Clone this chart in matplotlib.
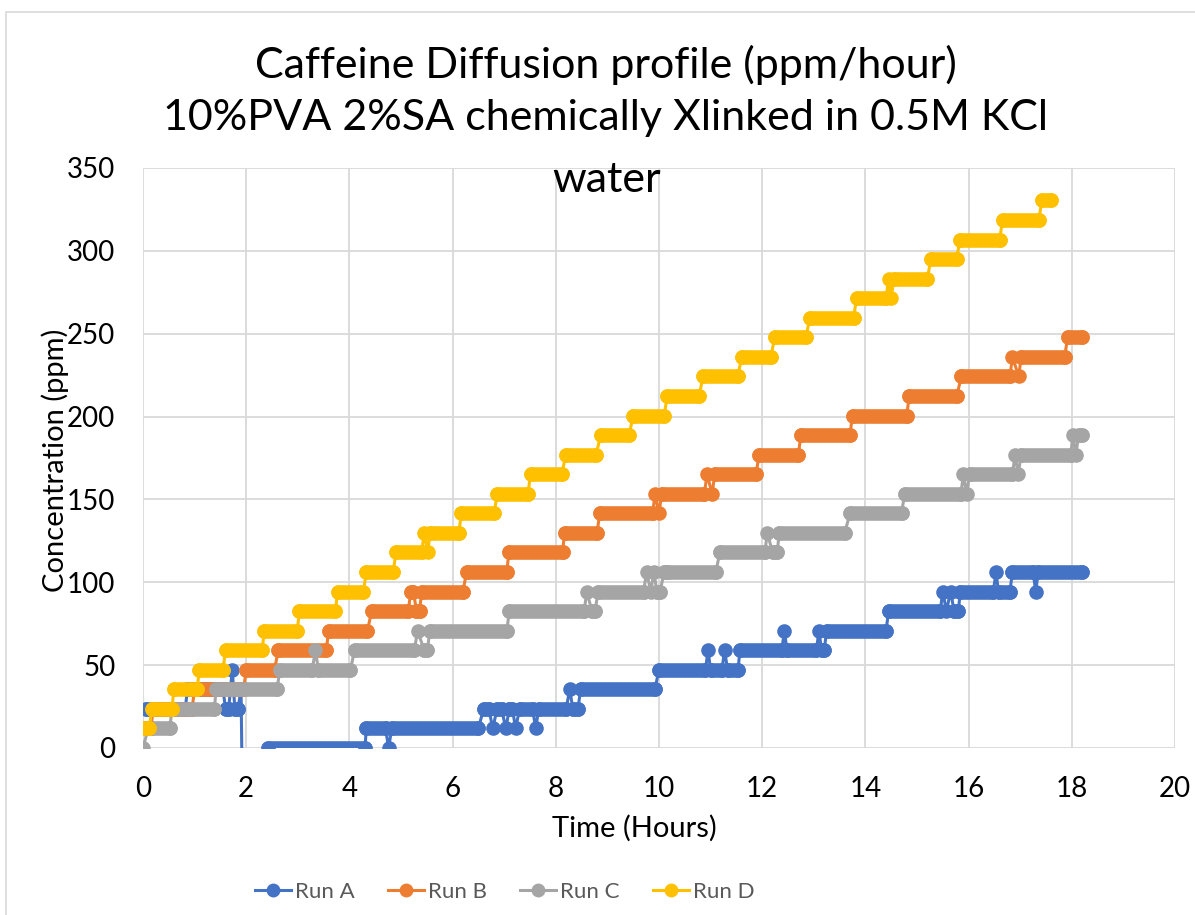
import numpy as np
import matplotlib.pyplot as plt
from matplotlib.patches import Rectangle

plt.rcParams['font.family'] = ['Lato', 'DejaVu Sans']

# Data (hours, ppm) - breakpoints of the stepped series
run_a_t = [0.05, 0.82, 0.86, 1.55, 1.60, 1.66, 1.73, 1.78, 1.84, 1.90, 1.93,
           2.43, 4.30, 4.33, 4.70, 4.76, 4.82, 6.50, 6.60, 6.70, 6.78, 6.86, 6.95,
           7.03, 7.10, 7.16, 7.22, 7.30, 7.55, 7.61, 7.67, 8.20, 8.27, 8.33, 8.43,
           8.48, 9.92, 10.00, 10.90, 10.95, 11.00, 11.22, 11.27, 11.33, 11.53, 11.57,
           12.38, 12.43, 12.48, 13.05, 13.10, 13.15, 13.20, 13.25, 14.40, 14.45,
           15.45, 15.50, 15.57, 15.65, 15.72, 15.80, 15.84, 16.48, 16.53, 16.58,
           16.80, 16.85, 17.25, 17.30, 17.35, 18.20]
run_a_ppm = [23.6, 23.6, 35.4, 35.4, 23.6, 23.6, 47.2, 23.6, 23.6, 35.4, -40,
             0, 0, 11.8, 11.8, 0, 11.8, 11.8, 23.6, 23.6, 11.8, 23.6, 23.6,
             11.8, 23.6, 23.6, 11.8, 23.6, 23.6, 11.8, 23.6, 23.6, 35.4, 23.6, 23.6,
             35.4, 35.4, 47.2, 47.2, 59.0, 47.2, 47.2, 59.0, 47.2, 47.2, 59.0,
             59.0, 70.8, 59.0, 59.0, 70.8, 59.0, 59.0, 70.8, 70.8, 82.6,
             82.6, 94.4, 82.6, 94.4, 82.6, 82.6, 94.4, 94.4, 106.2, 94.4,
             94.4, 106.2, 106.2, 94.4, 106.2, 106.2]

run_b_t = [0.00, 0.15, 0.20, 0.95, 1.00, 1.95, 2.00, 2.55, 2.62, 3.55, 3.60, 4.35,
           4.43, 5.14, 5.19, 5.24, 5.30, 5.36, 5.40, 6.20, 6.27, 7.05, 7.09, 8.13,
           8.17, 8.80, 8.85, 9.88, 9.92, 10.00, 10.05, 10.88, 10.93, 11.03, 11.08,
           11.88, 11.94, 12.70, 12.75, 13.70, 13.75, 14.80, 14.85, 15.77, 15.86,
           16.80, 16.85, 16.97, 17.02, 17.86, 17.92, 18.20]
run_b_ppm = [11.8, 11.8, 23.6, 23.6, 35.4, 35.4, 47.2, 47.2, 59.0, 59.0, 70.8, 70.8,
             82.6, 82.6, 94.4, 94.4, 82.6, 82.6, 94.4, 94.4, 106.2, 106.2, 118.0, 118.0,
             129.8, 129.8, 141.6, 141.6, 153.4, 141.6, 153.4, 153.4, 165.2, 153.4, 165.2,
             165.2, 177.0, 177.0, 188.8, 188.8, 200.6, 200.6, 212.4, 212.4, 224.2,
             224.2, 236.0, 224.2, 236.0, 236.0, 247.8, 247.8]

run_c_t = [0.00, 0.10, 0.52, 0.56, 1.38, 1.42, 2.60, 2.65, 3.28, 3.34, 3.40, 4.02,
           4.10, 5.26, 5.32, 5.45, 5.51, 5.56, 7.05, 7.10, 8.55, 8.60, 8.70, 8.76,
           8.82, 9.70, 9.76, 9.84, 9.90, 9.96, 10.02, 10.10, 10.15, 11.10, 11.18,
           12.05, 12.10, 12.20, 12.29, 12.33, 13.60, 13.70, 14.70, 14.76, 15.85,
           15.90, 15.96, 16.02, 16.85, 16.90, 16.96, 17.02, 17.98, 18.02, 18.08,
           18.13, 18.20]
run_c_ppm = [0, 11.8, 11.8, 23.6, 23.6, 35.4, 35.4, 47.2, 47.2, 59.0, 47.2, 47.2,
             59.0, 59.0, 70.8, 59.0, 59.0, 70.8, 70.8, 82.6, 82.6, 94.4, 82.6, 82.6,
             94.4, 94.4, 106.2, 94.4, 106.2, 94.4, 94.4, 106.2, 106.2, 106.2, 118.0,
             118.0, 129.8, 118.0, 118.0, 129.8, 129.8, 141.6, 141.6, 153.4, 153.4,
             165.2, 153.4, 165.2, 165.2, 177.0, 165.2, 177.0, 177.0, 188.8, 177.0,
             188.8, 188.8]

run_d_t = [0.00, 0.12, 0.17, 0.56, 0.60, 1.05, 1.09, 1.55, 1.60, 2.31, 2.35, 2.99,
           3.03, 3.73, 3.77, 4.27, 4.33, 4.85, 4.90, 5.40, 5.45, 5.52, 5.56, 6.12,
           6.17, 6.80, 6.87, 7.46, 7.51, 8.12, 8.19, 8.78, 8.87, 9.42, 9.50, 10.10,
           10.16, 10.78, 10.85, 11.53, 11.60, 12.17, 12.24, 12.85, 12.92, 13.77,
           13.83, 14.40, 14.45, 14.50, 14.55, 15.20, 15.27, 15.77, 15.83, 16.60,
           16.66, 17.36, 17.42, 17.60]
run_d_ppm = [11.8, 11.8, 23.6, 23.6, 35.4, 35.4, 47.2, 47.2, 59.0, 59.0, 70.8, 70.8,
             82.6, 82.6, 94.4, 94.4, 106.2, 106.2, 118.0, 118.0, 129.8, 118.0, 129.8, 129.8,
             141.6, 141.6, 153.4, 153.4, 165.2, 165.2, 177.0, 177.0, 188.8, 188.8, 200.6, 200.6,
             212.4, 212.4, 224.2, 224.2, 236.0, 236.0, 247.8, 247.8, 259.6, 259.6,
             271.4, 271.4, 283.2, 271.4, 283.2, 283.2, 295.0, 295.0, 306.8, 306.8,
             318.6, 318.6, 330.4, 330.4]

series = [("Run A", run_a_t, run_a_ppm, "#4472C4"),
          ("Run B", run_b_t, run_b_ppm, "#ED7D31"),
          ("Run C", run_c_t, run_c_ppm, "#A5A5A5"),
          ("Run D", run_d_t, run_d_ppm, "#FFC000")]


def plateaus(t, y):
    # keep only the flat runs, separated by NaN, so they can be drawn thick
    xs, ys = [], []
    for i in range(len(t) - 1):
        if y[i] == y[i + 1]:
            xs += [t[i], t[i + 1], np.nan]
            ys += [y[i], y[i + 1], np.nan]
    return xs, ys


fig = plt.figure(figsize=(11.95, 9.15), dpi=100)
ax = fig.add_axes([143 / 1195, 1 - 748 / 915, 1032 / 1195, 580 / 915])

for k, (name, t, y, col) in enumerate(series):
    px, py = plateaus(t, y)
    ax.plot(px, py, color=col, lw=10.5, solid_capstyle="round", zorder=3 + k)
    ax.plot(t, y, color=col, lw=2.2, marker="o", markersize=10.5,
            markeredgewidth=0, label=name, zorder=3 + k)

ax.set_xlim(0, 20)
ax.set_ylim(0, 350)
ax.set_xticks(range(0, 21, 2))
ax.set_yticks(range(0, 351, 50))
ax.grid(True, color="#D9D9D9", lw=1.3)
ax.set_axisbelow(True)
for s in ax.spines.values():
    s.set_visible(False)
ax.tick_params(length=0, labelsize=20, pad=20)
ax.tick_params(axis="y", pad=20)

fig.text(634 / 1195, 1 - 828 / 915, "Time (Hours)", fontsize=21,
         ha="center", va="center")
fig.text(55 / 1195, 1 - 460 / 915, "Concentration (ppm)", fontsize=21,
         rotation=90, ha="center", va="center")

fig.text(606 / 1195, 1 - 65 / 915, "Caffeine Diffusion profile (ppm/hour)",
         fontsize=31, ha="center", va="center")
fig.text(606 / 1195, 1 - 118 / 915, "10%PVA 2%SA chemically Xlinked in 0.5M KCl",
         fontsize=31, ha="center", va="center")
fig.text(607 / 1195, 1 - 180 / 915, "water", fontsize=31, ha="center", va="center",
         zorder=10)

leg = fig.legend(loc="center", bbox_to_anchor=(505 / 1195, 1 - 892 / 915), ncol=4,
                 frameon=False, fontsize=16, handlelength=1.6, columnspacing=1.5,
                 handletextpad=0.2, markerscale=0.95)
for txt in leg.get_texts():
    txt.set_color("#595959")

fig.patches.append(Rectangle((6 / 1195, -0.1), 1.2, 1 - 12 / 915 + 0.1,
                             transform=fig.transFigure, fill=False,
                             edgecolor="#D9D9D9", lw=1.2))

fig.savefig("out.png", dpi=100)
